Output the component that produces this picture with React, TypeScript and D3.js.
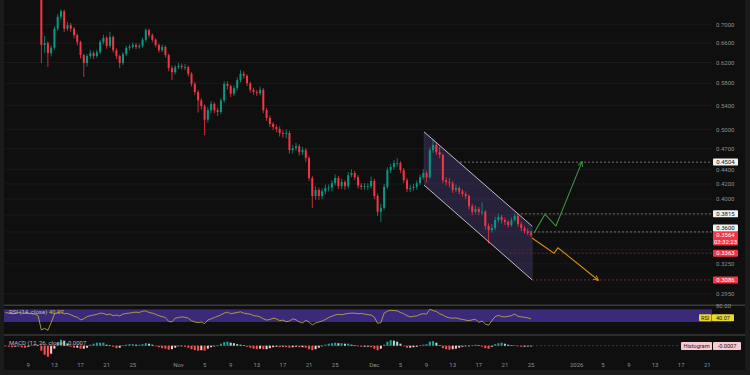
import * as d3 from 'd3';

const W = 750;
const H = 375;
const HOUR = 3600 * 1000;

// 12h candles, open = previous close
const CANDLE_START = Date.UTC(2025, 9, 11, 0);
const INDICATOR_START = Date.UTC(2025, 9, 5, 12);
const STEP_HOURS = 12;
const FIRST_OPEN = 0.79;

const CLOSE = [
  0.656, 0.660, 0.639, 0.650, 0.691, 0.718, 0.731, 0.691, 0.699, 0.691,
  0.677, 0.662, 0.635, 0.619, 0.633, 0.639, 0.633, 0.641, 0.662, 0.671,
  0.654, 0.673, 0.645, 0.633, 0.619, 0.637, 0.650, 0.652, 0.656, 0.652,
  0.654, 0.667, 0.688, 0.677, 0.667, 0.656, 0.645, 0.652, 0.635, 0.609,
  0.601, 0.611, 0.613, 0.611, 0.611, 0.598, 0.579, 0.564, 0.549, 0.539,
  0.516, 0.532, 0.543, 0.532, 0.529, 0.549, 0.579, 0.575, 0.561, 0.571,
  0.586, 0.598, 0.594, 0.580, 0.568, 0.564, 0.562, 0.568, 0.532, 0.519,
  0.509, 0.504, 0.501, 0.4945, 0.493, 0.4945, 0.468, 0.471, 0.474, 0.465,
  0.468, 0.4565, 0.428, 0.404, 0.412, 0.404, 0.410, 0.4145, 0.4150, 0.421,
  0.428, 0.417, 0.4225, 0.417, 0.432, 0.435, 0.429, 0.418, 0.416, 0.417,
  0.417, 0.424, 0.404, 0.384, 0.389, 0.416, 0.439, 0.4434, 0.449, 0.449,
  0.439, 0.425, 0.413, 0.4145, 0.416, 0.421, 0.429, 0.435, 0.429, 0.468,
  0.476, 0.465, 0.461, 0.425, 0.4225, 0.421, 0.412, 0.4145, 0.410, 0.4066,
  0.404, 0.391, 0.384, 0.3875, 0.384, 0.384, 0.367, 0.362, 0.3645, 0.374,
  0.3776, 0.374, 0.3716, 0.368, 0.374, 0.379, 0.369, 0.3645, 0.361, 0.3587, 0.3564,
];

const HIGH = [
  0.80, 0.675, 0.664, 0.655, 0.696, 0.724, 0.735, 0.735, 0.706, 0.704,
  0.695, 0.680, 0.665, 0.638, 0.637, 0.645, 0.643, 0.646, 0.667, 0.678,
  0.675, 0.684, 0.676, 0.649, 0.636, 0.641, 0.654, 0.657, 0.661, 0.660,
  0.659, 0.671, 0.692, 0.691, 0.681, 0.670, 0.659, 0.657, 0.655, 0.638,
  0.614, 0.615, 0.619, 0.618, 0.617, 0.614, 0.601, 0.583, 0.568, 0.553,
  0.542, 0.537, 0.548, 0.546, 0.536, 0.553, 0.584, 0.584, 0.578, 0.576,
  0.591, 0.605, 0.603, 0.597, 0.583, 0.572, 0.568, 0.574, 0.571, 0.536,
  0.523, 0.512, 0.508, 0.505, 0.499, 0.500, 0.498, 0.476, 0.479, 0.477,
  0.473, 0.471, 0.459, 0.431, 0.417, 0.415, 0.414, 0.419, 0.419, 0.425,
  0.433, 0.431, 0.427, 0.425, 0.436, 0.440, 0.438, 0.432, 0.421, 0.421,
  0.421, 0.430, 0.427, 0.407, 0.394, 0.420, 0.443, 0.448, 0.453, 0.4565,
  0.452, 0.442, 0.428, 0.419, 0.420, 0.425, 0.433, 0.440, 0.438, 0.472,
  0.485, 0.480, 0.473, 0.463, 0.429, 0.428, 0.424, 0.419, 0.417, 0.413,
  0.410, 0.406, 0.394, 0.392, 0.390, 0.396, 0.386, 0.370, 0.369, 0.378,
  0.382, 0.380, 0.377, 0.374, 0.377, 0.382, 0.381, 0.372, 0.367, 0.364, 0.361,
];

const LOW = [
  0.619, 0.640, 0.611, 0.632, 0.646, 0.686, 0.712, 0.684, 0.686, 0.684,
  0.670, 0.655, 0.628, 0.592, 0.612, 0.628, 0.627, 0.629, 0.637, 0.657,
  0.648, 0.650, 0.640, 0.627, 0.609, 0.615, 0.633, 0.645, 0.648, 0.647,
  0.648, 0.650, 0.663, 0.672, 0.662, 0.651, 0.640, 0.641, 0.630, 0.603,
  0.586, 0.597, 0.607, 0.606, 0.605, 0.593, 0.574, 0.559, 0.528, 0.533,
  0.491, 0.511, 0.527, 0.527, 0.522, 0.525, 0.545, 0.569, 0.555, 0.557,
  0.567, 0.582, 0.589, 0.575, 0.563, 0.559, 0.557, 0.558, 0.527, 0.514,
  0.504, 0.499, 0.496, 0.489, 0.487, 0.486, 0.463, 0.463, 0.467, 0.460,
  0.461, 0.451, 0.424, 0.389, 0.399, 0.399, 0.400, 0.406, 0.410, 0.410,
  0.418, 0.413, 0.413, 0.412, 0.414, 0.429, 0.425, 0.414, 0.412, 0.412,
  0.412, 0.414, 0.400, 0.379, 0.3716, 0.386, 0.413, 0.435, 0.440, 0.444,
  0.435, 0.421, 0.409, 0.409, 0.411, 0.412, 0.418, 0.426, 0.422, 0.427,
  0.464, 0.461, 0.456, 0.421, 0.418, 0.416, 0.408, 0.409, 0.406, 0.403,
  0.400, 0.387, 0.380, 0.381, 0.380, 0.380, 0.363, 0.347, 0.359, 0.362,
  0.371, 0.370, 0.368, 0.365, 0.366, 0.372, 0.366, 0.361, 0.358, 0.356, 0.354,
];

// indicators start 11 bars before the first visible candle
const RSI = [
  60, 58, 56, 57, 60, 58, 57, 58, 56, 55, 50,
  5, 10, 4, 28, 55, 60, 62, 56, 57, 53,
  48, 45, 37, 40, 47, 50, 52, 54, 58, 57,
  53, 55, 50, 52, 49, 55, 57, 58, 60, 61,
  60, 64, 65, 60, 58, 54, 50, 47, 44, 32,
  30, 42, 44, 46, 45, 42, 34, 30, 28, 30,
  25, 36, 40, 44, 48, 52, 58, 61, 56, 58,
  60, 62, 58, 56, 55, 50, 49, 46, 40, 36,
  38, 42, 40, 34, 36, 31, 33, 40, 37, 30,
  27, 35, 30, 21, 27, 30, 33, 38, 44, 48,
  52, 54, 53, 55, 57, 58, 58, 56, 57, 55,
  53, 52, 45, 26, 28, 58, 64, 67, 66, 65,
  60, 56, 50, 46, 48, 49, 54, 56, 55, 70,
  66, 63, 56, 52, 46, 43, 42, 43, 40, 38,
  36, 34, 37, 38, 29, 33, 24, 20, 34, 47,
  51, 47, 46, 48, 50, 55, 48, 46, 45, 43, 40.07,
];

// MACD histogram, in thousandths
const MACD_HIST = [
  -0.5, -1, -1.5, -1, -0.5, -1.5, -2, -1, 0.5, 1, 0.5,
  -5, -9, -11, -8, -3, 3, 6, 5, 2, -1,
  -2, -2, -3, -3, -2, 1, 2, 3, 3, 3,
  1, 0.5, -1, -2.5, -2, 0.5, 1, 1.5, 1.5, 1,
  1, 1.5, 2.5, 2, 1, -0.5, -1.5, -2.5, -3, -4,
  -3.5, -2, -0.5, -0.5, -1, -2, -3.5, -4.5, -5, -4.5,
  -5, -3, -1.5, -0.5, 0.5, 2, 3.5, 4, 3, 2.5,
  1.5, 1, 0.5, -1, -2, -3, -3.5, -3, -3.5, -3.5,
  -2.5, -1.5, -1, -1.5, -1, -1.5, -2, -1.5, -1, -1.5,
  -1.5, -2, -3.5, -4.5, -3.5, -2, -0.5, 1, 2, 2.5,
  3, 2.5, 2.5, 2, 2, 1, 0.5, -0.5, -1, -1,
  -1, -1.5, -3, -4.5, -3, 1, 4, 5.5, 5, 4,
  2, -0.5, -2, -2, -1.5, -1, 0.5, 1, 1.5, 4,
  4.5, 3, 0.5, -2.5, -3.5, -4, -3.5, -3, -2, -1,
  -0.5, -0.5, 0.5, 1, 0.5, -1, -2.5, -3, -1, 1.5,
  2.5, 3, 2, 1, 0.5, 0.5, -0.5, -1, -1, -0.8, -0.7,
];

const PRICE_TICKS = [0.7, 0.66, 0.62, 0.58, 0.54, 0.5, 0.47, 0.44, 0.42, 0.4, 0.38, 0.36, 0.34, 0.325, 0.295];

const DATE_TICKS = [
  '2025-10-09', '2025-10-13', '2025-10-17', '2025-10-21', '2025-10-25',
  '2025-11-01', '2025-11-05', '2025-11-09', '2025-11-13', '2025-11-17', '2025-11-21', '2025-11-25',
  '2025-12-01', '2025-12-05', '2025-12-09', '2025-12-13', '2025-12-17', '2025-12-21', '2025-12-25',
  '2026-01-01', '2026-01-05', '2026-01-09', '2026-01-13', '2026-01-17', '2026-01-21',
];

// horizontal levels: price, start time, style
const LEVELS = [
  { price: 0.4504, from: '2025-12-14T03:00Z', kind: 'white' },
  { price: 0.3815, from: '2025-12-22T20:00Z', kind: 'white' },
  { price: 0.36, from: '2025-12-24T20:00Z', kind: 'white' },
  { price: 0.3363, from: '2025-12-21T17:00Z', kind: 'red' },
  { price: 0.3086, from: '2025-12-25T03:30Z', kind: 'red' },
];

// descending channel corners (time, price)
const CHANNEL_TOP = [['2025-12-08T14:40Z', 0.4963], ['2025-12-25T04:30Z', 0.3666]];
const CHANNEL_BOTTOM = [['2025-12-08T14:40Z', 0.4184], ['2025-12-25T04:30Z', 0.3086]];

const BULL_PATH = [['2025-12-25T10:50Z', 0.3587], ['2025-12-27T03:20Z', 0.3812], ['2025-12-28T19:40Z', 0.3669], ['2026-01-01T19:00Z', 0.4504]];
const BEAR_PATH = [['2025-12-25T03:40Z', 0.353], ['2025-12-28T12:30Z', 0.3363], ['2025-12-29T03:10Z', 0.3421], ['2026-01-04T06:15Z', 0.3086]];

const LAST_PRICE = 0.3564;
const COUNTDOWN = '03:32:23';

const COLORS = {
  frame: '#1b1b1b',
  bg: '#0f0f0f',
  grid: '#1d1d1d',
  sep: '#3a3a3a',
  text: '#8e8e8e',
  up: '#089981',
  down: '#f23645',
  rsi: '#c9b443',
  rsiBand: '#3b2a7a',
  channel: 'rgba(120, 90, 200, 0.24)',
  channelEdge: '#c9c9d2',
  bull: '#3f9142',
  bear: '#d38a12',
};

const FONT = 'Roboto, "Liberation Sans", sans-serif';

export default function App() {
  const x = d3.scaleUtc()
    .domain([new Date(Date.UTC(2025, 9, 9)), new Date(Date.UTC(2026, 0, 21))])
    .range([28.3, 707.3]);
  const y = d3.scaleLog().domain([0.295, 0.7]).range([294, 24.7]);
  const rsiY = d3.scaleLinear().domain([30, 70]).range([322, 309.3]);
  const macdY = d3.scaleLinear().domain([-10, 10]).range([355.7, 335.7]);

  const plotLeft = 4;
  const plotRight = 712;
  const mainBottom = 303.5;

  const candleT = (i: number) => new Date(CANDLE_START + i * STEP_HOURS * HOUR);
  const indT = (i: number) => new Date(INDICATOR_START + i * STEP_HOURS * HOUR);
  const bodyW = 2;

  const candles = CLOSE.map((c, i) => {
    const o = i === 0 ? FIRST_OPEN : CLOSE[i - 1];
    const up = c >= o;
    const cx = x(candleT(i));
    const yTop = y(Math.max(o, c));
    const yBot = y(Math.min(o, c));
    const col = up ? COLORS.up : COLORS.down;
    return (
      <g key={i}>
        <line x1={cx} x2={cx} y1={y(Math.max(HIGH[i], o, c))} y2={y(Math.min(LOW[i], o, c))} stroke={col} strokeWidth={0.8} />
        <rect x={cx - bodyW / 2} y={yTop} width={bodyW} height={Math.max(0.8, yBot - yTop)} fill={col} />
      </g>
    );
  });

  const rsiLine = d3.line<number>()
    .x((_, i) => x(indT(i)))
    .y((d) => rsiY(d))(RSI) || '';

  const hist = MACD_HIST.map((v, i) => {
    const prev = i === 0 ? 0 : MACD_HIST[i - 1];
    let col;
    if (v >= 0) col = v >= prev ? '#26a69a' : '#b2dfdb';
    else col = v < prev ? '#ff5252' : '#ffcdd2';
    const y0 = macdY(0);
    const y1 = macdY(v);
    return (
      <rect key={i} x={x(indT(i)) - bodyW / 2} y={Math.min(y0, y1)} width={bodyW} height={Math.max(0.6, Math.abs(y1 - y0))} fill={col} />
    );
  });

  const pt = (p: (string | number)[]) => [x(new Date(p[0] as string)), y(p[1] as number)] as [number, number];
  const chanPoly = [pt(CHANNEL_TOP[0]), pt(CHANNEL_TOP[1]), pt(CHANNEL_BOTTOM[1]), pt(CHANNEL_BOTTOM[0])];
  const pathLine = d3.line();

  // right-hand price tags, pushed apart from the bottom up
  type Tag = { price: number; text: string[]; bg: string; fg: string; y: number; h: number };
  const tags: Tag[] = [
    ...LEVELS.map((l) => ({
      price: l.price,
      text: [l.price.toFixed(4)],
      bg: l.kind === 'white' ? '#f2f2f2' : COLORS.down,
      fg: l.kind === 'white' ? '#131313' : '#ffffff',
      y: y(l.price) - 3.5,
      h: 7,
    })),
    { price: LAST_PRICE, text: [LAST_PRICE.toFixed(4), COUNTDOWN], bg: COLORS.down, fg: '#ffffff', y: y(LAST_PRICE) - 3.5, h: 14 },
  ].sort((a, b) => b.y - a.y);
  for (let i = 1; i < tags.length; i++) {
    const below = tags[i - 1];
    if (tags[i].y + tags[i].h > below.y) tags[i].y = below.y - tags[i].h;
  }

  // axis labels hidden behind a price tag are not drawn
  const visibleTicks = PRICE_TICKS.filter((p) => {
    const ty = y(p);
    return !tags.some((t) => ty + 3 > t.y && ty - 3 < t.y + t.h);
  });

  const fmtDate = (s: string) => {
    const d = new Date(s + 'T00:00:00Z');
    if (d.getUTCDate() === 1) {
      return d.getUTCMonth() === 0 ? String(d.getUTCFullYear()) : d3.utcFormat('%b')(d);
    }
    return String(d.getUTCDate());
  };

  return (
    <svg
      width={W}
      height={H}
      style={{ position: 'absolute', left: 0, top: 0, fontFamily: FONT }}
    >
      <defs>
        <clipPath id="mainClip">
          <rect x={plotLeft} y={0} width={plotRight - plotLeft} height={mainBottom} />
        </clipPath>
        <clipPath id="rsiClip">
          <rect x={plotLeft} y={306.5} width={plotRight - plotLeft} height={27.5} />
        </clipPath>
        <clipPath id="macdClip">
          <rect x={plotLeft} y={336} width={plotRight - plotLeft} height={24} />
        </clipPath>
        <marker id="arrBull" viewBox="0 0 10 10" refX="8" refY="5" markerWidth="6" markerHeight="6" markerUnits="userSpaceOnUse" orient="auto">
          <path d="M1,1 L9,5 L1,9" fill="none" stroke={COLORS.bull} strokeWidth={1.6} />
        </marker>
        <marker id="arrBear" viewBox="0 0 10 10" refX="8" refY="5" markerWidth="6" markerHeight="6" markerUnits="userSpaceOnUse" orient="auto">
          <path d="M1,1 L9,5 L1,9" fill="none" stroke={COLORS.bear} strokeWidth={1.6} />
        </marker>
      </defs>

      <rect width={W} height={H} fill={COLORS.frame} />
      <rect x={plotLeft} y={0} width={745 - plotLeft} height={370} fill={COLORS.bg} />

      {/* main pane grid */}
      {PRICE_TICKS.map((p) => (
        <line key={p} x1={plotLeft} x2={plotRight} y1={y(p)} y2={y(p)} stroke={COLORS.grid} strokeWidth={0.8} />
      ))}

      <g clipPath="url(#mainClip)">
        <polygon points={chanPoly.map((d) => d.join(',')).join(' ')} fill={COLORS.channel} stroke="rgba(200,200,215,0.15)" strokeWidth={0.6} />
        {candles}
        <line x1={chanPoly[0][0]} y1={chanPoly[0][1]} x2={chanPoly[1][0]} y2={chanPoly[1][1]} stroke={COLORS.channelEdge} strokeWidth={0.9} />
        <line x1={chanPoly[3][0]} y1={chanPoly[3][1]} x2={chanPoly[2][0]} y2={chanPoly[2][1]} stroke={COLORS.channelEdge} strokeWidth={0.9} />

        {LEVELS.map((l) => (
          <line
            key={l.price}
            x1={x(new Date(l.from))}
            x2={plotRight}
            y1={y(l.price)}
            y2={y(l.price)}
            stroke={l.kind === 'white' ? '#8a8a8a' : '#8e2a33'}
            strokeWidth={0.8}
            strokeDasharray="2,2"
          />
        ))}

        <path d={pathLine(BULL_PATH.map(pt)) || ''} fill="none" stroke={COLORS.bull} strokeWidth={1.1} markerEnd="url(#arrBull)" />
        <path d={pathLine(BEAR_PATH.map(pt)) || ''} fill="none" stroke={COLORS.bear} strokeWidth={1.1} markerEnd="url(#arrBear)" />
      </g>

      {/* price axis */}
      {visibleTicks.map((p) => (
        <text key={p} x={716} y={y(p)} dy="0.35em" fontSize={6} fill={COLORS.text}>
          {p.toFixed(4)}
        </text>
      ))}
      {tags.map((t) => (
        <g key={t.price}>
          <rect x={713} y={t.y} width={25} height={t.h} fill={t.bg} rx={0.8} />
          {t.text.map((s, k) => (
            <text key={k} x={725.5} y={t.y + 3.6 + k * 6.8} dy="0.35em" textAnchor="middle" fontSize={6} fill={t.fg}>
              {s}
            </text>
          ))}
        </g>
      ))}

      {/* pane separators */}
      <line x1={plotLeft} x2={745} y1={305.2} y2={305.2} stroke={COLORS.sep} strokeWidth={1.4} />
      <line x1={plotLeft} x2={745} y1={335} y2={335} stroke={COLORS.sep} strokeWidth={1.4} />

      {/* RSI pane */}
      <rect x={plotLeft} y={rsiY(70)} width={plotRight - plotLeft} height={rsiY(30) - rsiY(70)} fill={COLORS.rsiBand} />
      <g clipPath="url(#rsiClip)">
        <path d={rsiLine} fill="none" stroke={COLORS.rsi} strokeWidth={0.8} />
      </g>
      <text x={9} y={rsiY(62)} dy="0.35em" fontSize={6} fill="#b8b8c0">
        RSI (14, close) <tspan fill={COLORS.rsi}>40.07</tspan>
      </text>
      <text x={716} y={rsiY(80)} dy="0.35em" fontSize={6} fill={COLORS.text}>80.00</text>
      <rect x={699} y={314.3} width={12.5} height={7} fill="#e9d72c" rx={0.8} />
      <text x={705.2} y={317.8} dy="0.35em" textAnchor="middle" fontSize={5.6} fill="#1a1a1a">RSI</text>
      <rect x={712} y={314.3} width={22} height={7} fill="#e9d72c" rx={0.8} />
      <text x={723} y={317.8} dy="0.35em" textAnchor="middle" fontSize={5.6} fill="#1a1a1a">40.07</text>

      {/* MACD pane */}
      <line x1={plotLeft} x2={680} y1={macdY(0)} y2={macdY(0)} stroke="#4a4a4a" strokeWidth={0.7} strokeDasharray="2,2" />
      <g clipPath="url(#macdClip)">{hist}</g>
      <text x={9} y={342.5} dy="0.35em" fontSize={6} fill="#b8b8c0">
        MACD (12, 26, close)  -0.0007
      </text>
      <rect x={681} y={342} width={31} height={8} fill="#f7c9d1" rx={0.8} />
      <text x={696.5} y={346} dy="0.35em" textAnchor="middle" fontSize={5.6} fill="#1a1a1a">Histogram</text>
      <rect x={713} y={342} width={28} height={8} fill="#f7c9d1" rx={0.8} />
      <text x={727} y={346} dy="0.35em" textAnchor="middle" fontSize={5.6} fill="#1a1a1a">-0.0007</text>

      {/* time axis */}
      {DATE_TICKS.map((d) => (
        <text key={d} x={x(new Date(d + 'T00:00:00Z'))} y={365} dy="0.35em" textAnchor="middle" fontSize={6} fill={COLORS.text}>
          {fmtDate(d)}
        </text>
      ))}
    </svg>
  );
}
